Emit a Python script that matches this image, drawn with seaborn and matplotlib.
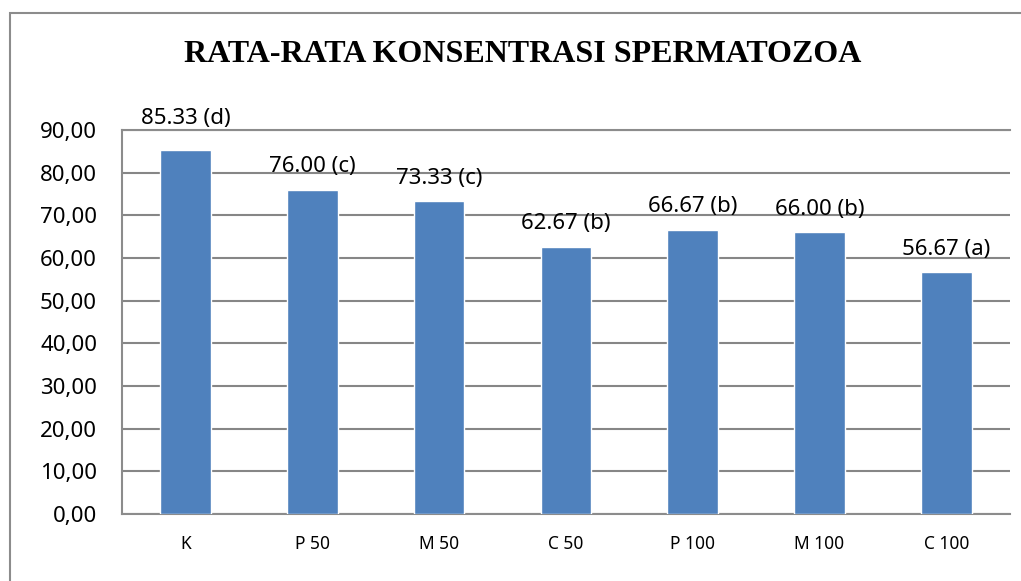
import matplotlib
matplotlib.use("Agg")
import matplotlib.pyplot as plt
import seaborn as sns
import pandas as pd
from matplotlib.patches import Rectangle
from matplotlib.ticker import FuncFormatter

# data
perlakuan = ["K", "P 50", "M 50", "C 50", "P 100", "M 100", "C 100"]
rata_rata = [85.33, 76.00, 73.33, 62.67, 66.67, 66.00, 56.67]
notasi = ["d", "c", "c", "b", "b", "b", "a"]

df = pd.DataFrame({"perlakuan": perlakuan, "nilai": rata_rata})

sns.set_theme(style="white")
plt.rcParams["font.family"] = ["Noto Sans", "DejaVu Sans"]

fig = plt.figure(figsize=(10.21, 5.81), dpi=100)
ax = fig.add_axes([0.1195, 0.1153, 0.8695, 0.6609])

# outer chart frame
fig.patches.append(Rectangle((10 / 1021, -0.1), 1.2, (581 - 13) / 581 + 0.1,
                             transform=fig.transFigure, fill=False,
                             edgecolor="#8c8c8c", linewidth=1.5))

sns.barplot(data=df, x="perlakuan", y="nilai", color="#4F81BD", width=0.4,
            saturation=1, ax=ax, zorder=3)

ax.set_ylim(0, 90)
ax.set_yticks(range(0, 91, 10))
ax.yaxis.set_major_formatter(FuncFormatter(lambda v, p: f"{v:.2f}".replace(".", ",")))
ax.grid(axis="y", color="#868686", linewidth=1.5, zorder=0)
ax.set_axisbelow(True)
ax.set_xlabel("")
ax.set_ylabel("")

for s in ["left", "bottom", "top"]:
    ax.spines[s].set_color("#8c8c8c")
    ax.spines[s].set_linewidth(1.5)
ax.spines["right"].set_visible(False)

ax.tick_params(axis="y", labelsize=16, pad=18, length=0, colors="black")
ax.tick_params(axis="x", labelsize=12.5, pad=15, length=0, colors="black")

# labels above the bars; K label sits higher in the original
offsets = [15, 9, 9, 9, 9, 9, 9]
for i, (v, n) in enumerate(zip(rata_rata, notasi)):
    ax.annotate(f"{v:.2f} ({n})", (i, v), xytext=(0, offsets[i]),
                textcoords="offset points", ha="center", va="bottom",
                fontsize=16, color="black", annotation_clip=False)

fig.text(523 / 1021, 1 - 55 / 581, "RATA-RATA KONSENTRASI SPERMATOZOA",
         ha="center", va="center", fontsize=23, fontweight="bold",
         family="Liberation Serif", color="black")

fig.savefig("out.png", dpi=100)
